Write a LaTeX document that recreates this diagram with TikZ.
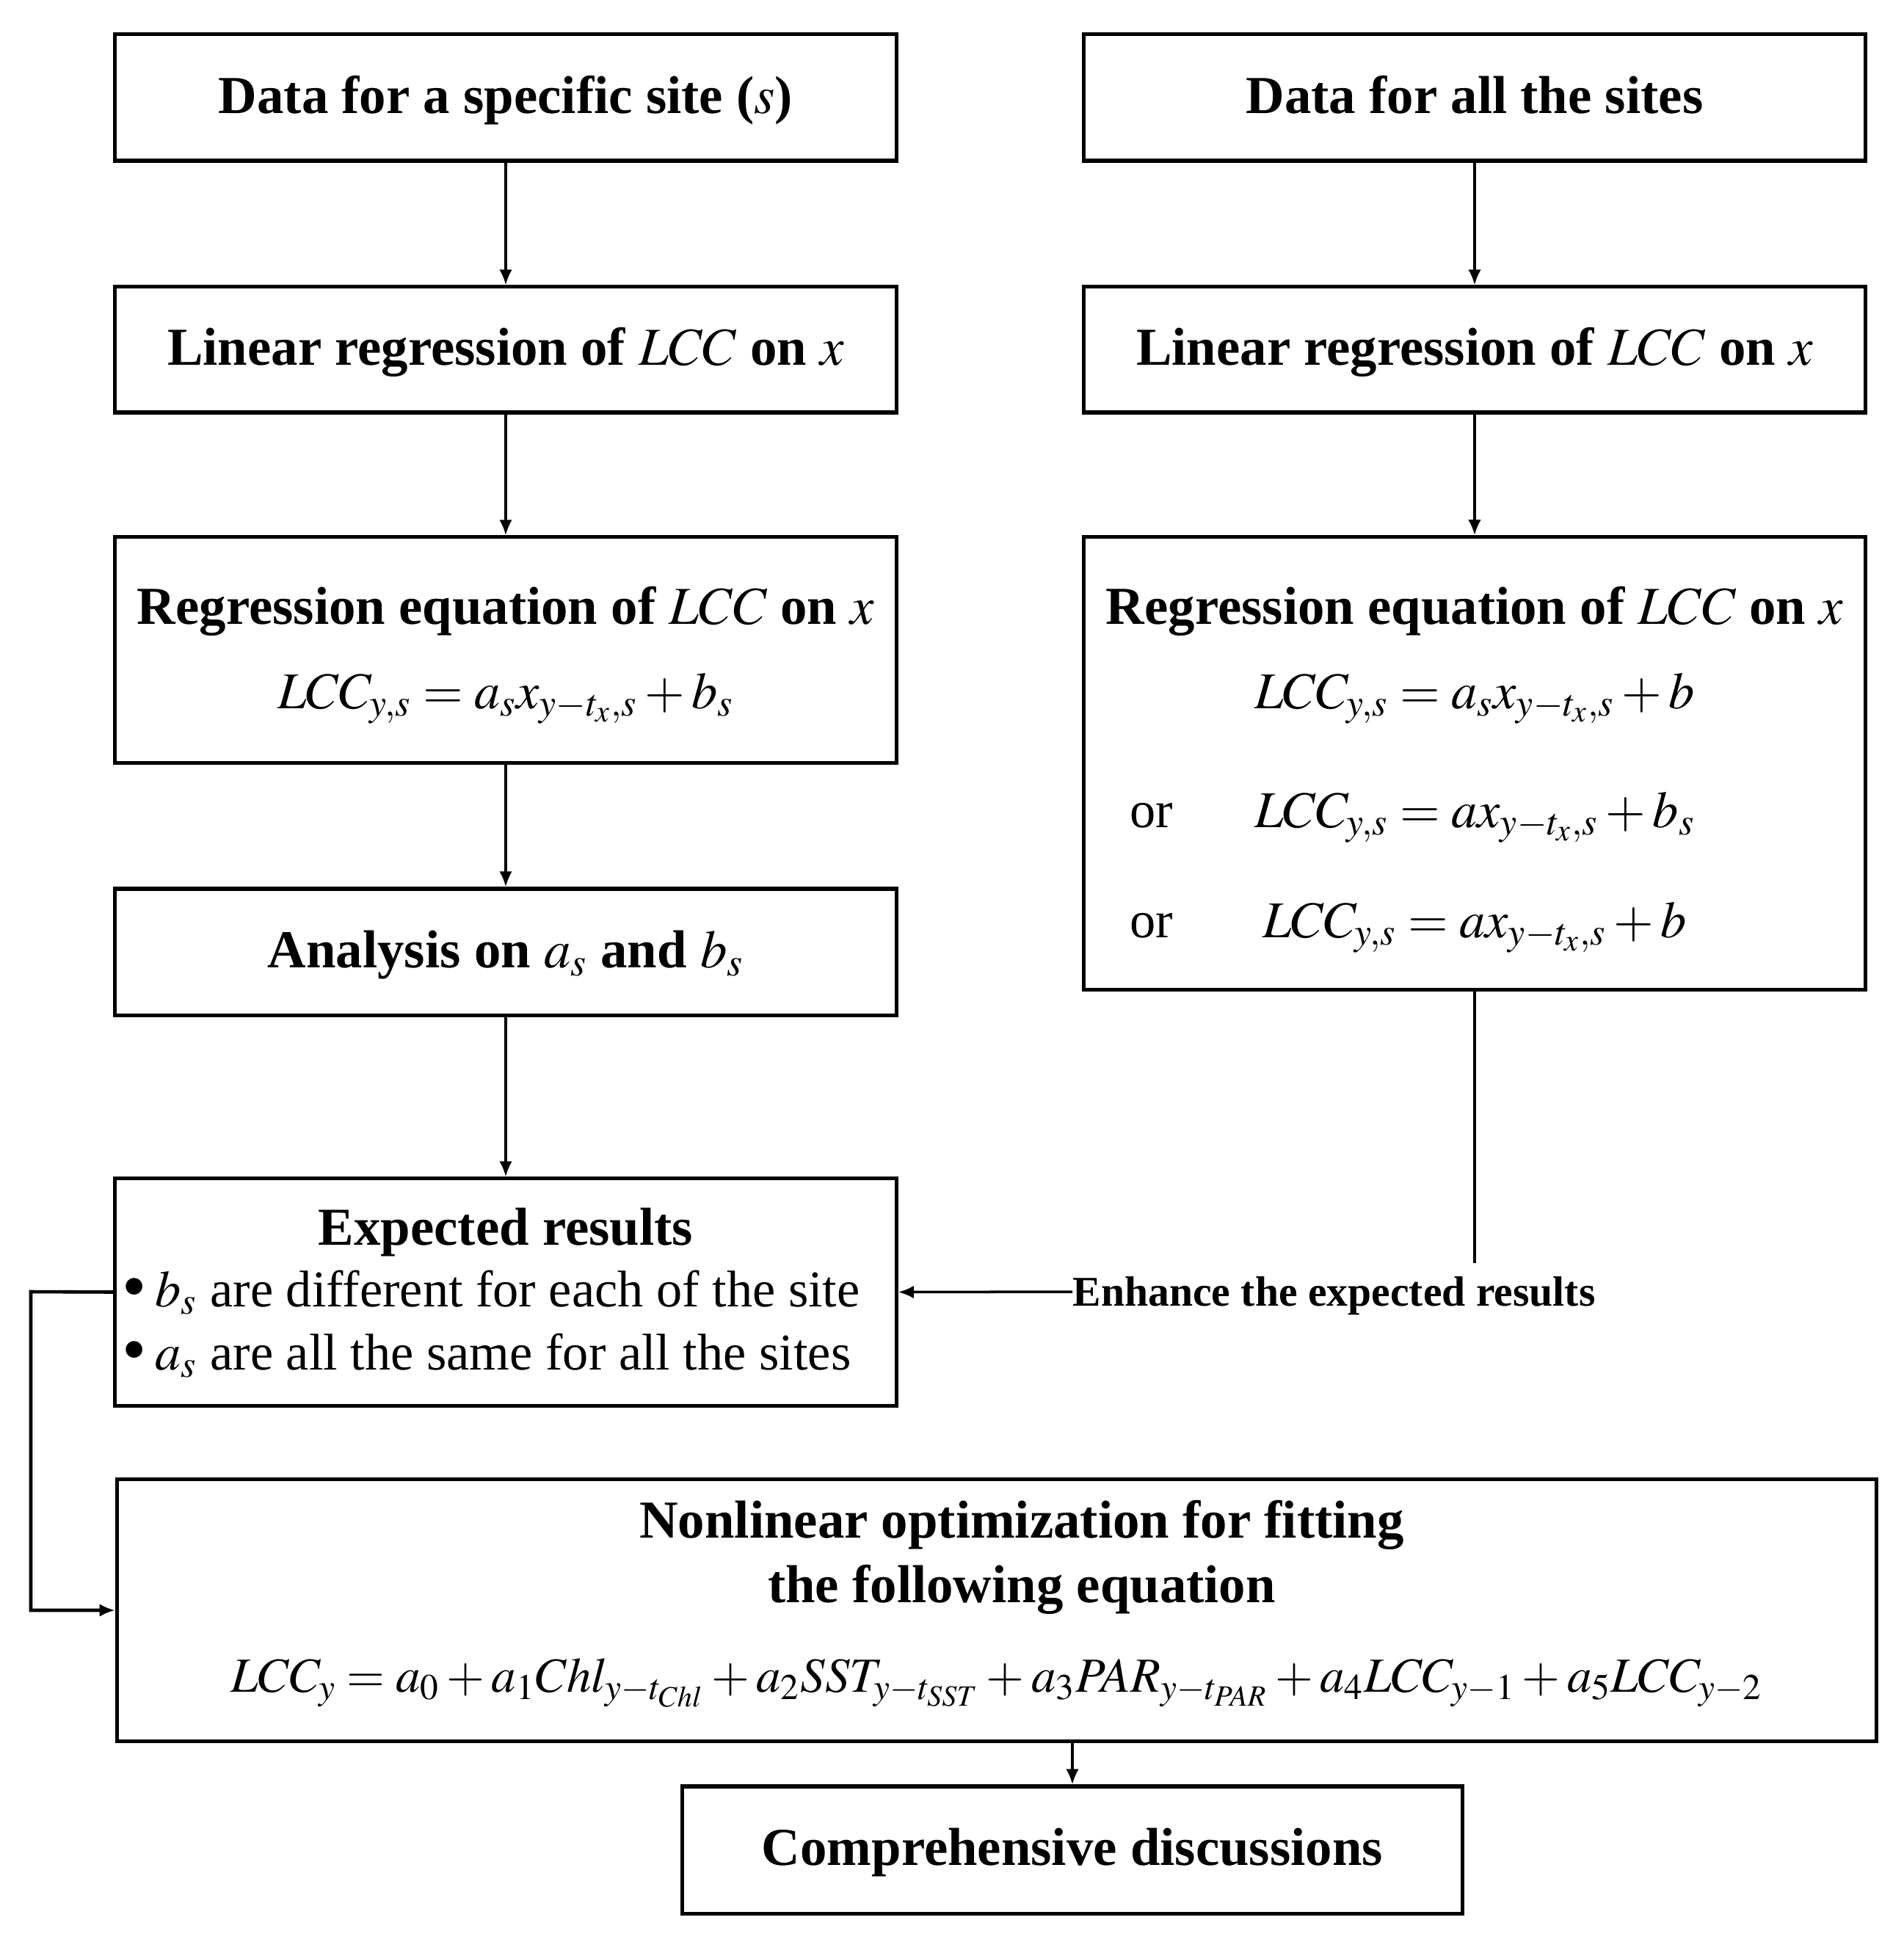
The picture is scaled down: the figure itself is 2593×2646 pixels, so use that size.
\documentclass[tikz,border=0pt]{standalone}
\usepackage{mathptmx}
\usepackage{fontspec}
\setmainfont{Liberation Serif}
\usetikzlibrary{arrows.meta}
\newcommand{\bigbul}{\raisebox{-0.15ex}{\scalebox{1.35}{•}}}
\begin{document}
\begin{tikzpicture}[x=0.01cm,y=-0.01cm,
  box/.style={draw,line width=1.45pt,inner sep=0pt,fill=white},
  lbox/.style={box,minimum width=10.64cm},
  big/.style={font=\fontsize{20}{24}\selectfont},
  ttl/.style={font=\fontsize{20.7}{24}\selectfont\bfseries},
  one/.style={text height=16pt,text depth=4pt},
  txt/.style={inner sep=0pt,anchor=base},
  arr/.style={line width=1pt,-{Latex[length=6pt,width=5pt]}},
  ln/.style={line width=1pt},
  loopln/.style={line width=1.3pt,-{Latex[length=6pt,width=5pt]}}]
\path[use as bounding box] (0,0) rectangle (2593,2646);
% row 1
\node[lbox,minimum height=1.72cm,ttl,one] (L1) at (689,133) {Data for a specific site ($s$)};
\node[lbox,minimum height=1.72cm,ttl,one] (R1) at (2009,133) {Data for all the sites};
% row 2
\node[lbox,minimum height=1.71cm,ttl,one] (L2) at (689,476.5) {Linear regression of $LCC$ on $x$};
\node[lbox,minimum height=1.71cm,ttl,one] (R2) at (2009,476.5) {Linear regression of $LCC$ on $x$};
% row 3
\node[lbox,minimum height=3.07cm] (L3) at (689,885.5) {};
\node[txt,ttl] (L3t) at (689,850) {Regression equation of $LCC$ on $x$};
\node[txt,big] (L3e) at (689,965) {$LCC_{y,s}=a_s x_{y-t_x,s}+b_s$};
\node[lbox,minimum height=6.16cm] (R3) at (2009,1040) {};
\node[txt,ttl] (R3t) at (2009,850) {Regression equation of $LCC$ on $x$};
\node[txt,big] (R3e1) at (2009,965) {$LCC_{y,s}=a_s x_{y-t_x,s}+b$};
\node[txt,big] (R3e2) at (2009,1127) {$LCC_{y,s}=a x_{y-t_x,s}+b_s$};
\node[txt,big] (R3e3) at (2009,1277) {$LCC_{y,s}=a x_{y-t_x,s}+b$};
\node[txt,big] (or1) at (1569,1127) {or};
\node[txt,big] (or2) at (1569,1277) {or};
% row 4
\node[lbox,minimum height=1.72cm,ttl,one] (L4) at (689,1297) {Analysis on $a_s$ and $b_s$};
% row 5
\node[lbox,minimum height=3.09cm] (L5) at (689,1760.5) {};
\node[txt,ttl] (L5t) at (689,1696) {Expected results};
\node[txt,big,anchor=base west] (L5b1) at (166,1780) {\bigbul\,$b_s$ are different for each of the site};
\node[txt,big,anchor=base west] (L5b2) at (166,1866) {\bigbul\,$a_s$ are all the same for all the sites};
\node[inner sep=0pt,anchor=west,text height=11pt,text depth=0pt,font=\fontsize{16.4}{19}\selectfont\bfseries] (EN) at (1461,1760) {Enhance the expected results};
% row 6
\node[box,minimum width=23.96cm,minimum height=3.56cm] (B6) at (1358,2194) {};
\node[txt,ttl] (B6t1) at (1392,2095) {Nonlinear optimization for fitting};
\node[txt,ttl] (B6t2) at (1392,2183) {the following equation};
\node[txt,font=\fontsize{19}{23}\selectfont] (B6e) at (1358,2305) {$LCC_y=a_0+a_1 Chl_{y-t_{Chl}}+a_2 SST_{y-t_{SST}}+a_3 PAR_{y-t_{PAR}}+a_4 LCC_{y-1}+a_5 LCC_{y-2}$};
% row 7
\node[box,minimum width=10.62cm,minimum height=1.73cm,ttl,one] (B7) at (1461,2520.5) {Comprehensive discussions};
% connectors
\draw[arr] (L1.south) -- (L2.north);
\draw[arr] (L2.south) -- (L3.north);
\draw[arr] (L3.south) -- (L4.north);
\draw[arr] (L4.south) -- (L5.north);
\draw[arr] (R1.south) -- (R2.north);
\draw[arr] (R2.south) -- (R3.north);
\coordinate (Rend) at (2009,1721);
\draw[ln] (R3.south) -- (Rend);
\draw[arr] (EN.west) -- (L5.east);
\coordinate (lp) at (42,1760);
\draw[loopln] (L5.west) -- (lp) |- (B6.west);
\draw[arr] (B6.south -| B7.north) -- (B7.north);
\end{tikzpicture}
\end{document}
